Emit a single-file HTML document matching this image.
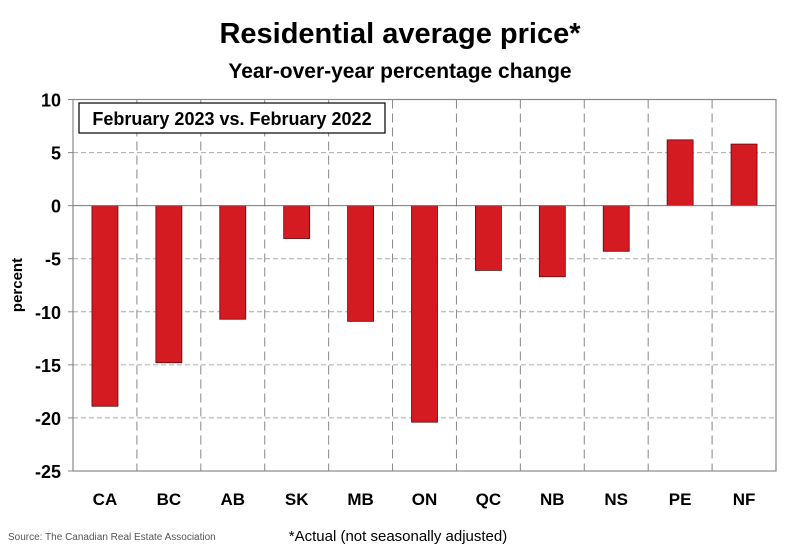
<!DOCTYPE html>
<html><head><meta charset="utf-8"><style>
body{margin:0;background:#fff;font-family:"Liberation Sans",sans-serif}
svg text{font-family:"Liberation Sans",sans-serif}
</style></head><body>
<svg id="chart" width="800" height="548" viewBox="0 0 800 548">
<text x="400" y="43" text-anchor="middle" font-size="29" font-weight="bold" fill="#000">Residential average price*</text>
<text x="400" y="78" text-anchor="middle" font-size="21" font-weight="bold" fill="#000">Year-over-year percentage change</text>
<g id="grid"></g>
<g id="bars"></g>
<g id="axes"></g>
<rect x="79" y="103" width="306" height="30" fill="#fff" stroke="#000" stroke-width="1.2"/>
<text x="232" y="125" text-anchor="middle" font-size="18" font-weight="bold">February 2023 vs. February 2022</text>
<text transform="translate(22,285) rotate(-90)" text-anchor="middle" font-size="15" font-weight="bold">percent</text>
<text x="8" y="540" font-size="10" fill="#555">Source: The Canadian Real Estate Association</text>
<text x="398" y="541" text-anchor="middle" font-size="15" fill="#000">*Actual (not seasonally adjusted)</text>
</svg>
<script>
const categories=["CA","BC","AB","SK","MB","ON","QC","NB","NS","PE","NF"];
const values=[-18.9,-14.8,-10.7,-3.1,-10.9,-20.4,-6.1,-6.7,-4.3,6.2,5.8];
const yTicks=[10,5,0,-5,-10,-15,-20,-25];
const NS="http://www.w3.org/2000/svg";
const L=73,R=776,T=99.5,B=471,yMin=-25,yMax=10;
const bw=(R-L)/categories.length;
const y=v=>T+(yMax-v)/(yMax-yMin)*(B-T);
const x=i=>L+bw*(i+0.5);
function mk(tag,attrs,parent){const e=document.createElementNS(NS,tag);for(const k in attrs)e.setAttribute(k,attrs[k]);parent.appendChild(e);return e;}
const grid=document.getElementById('grid'),bars=document.getElementById('bars'),axes=document.getElementById('axes');
yTicks.forEach(t=>{
 if(t!==0&&t!==yMax&&t!==yMin){const g=mk('line',{x1:L,x2:R,y1:y(t),y2:y(t),stroke:'#aaa','stroke-dasharray':'5,3'},grid);
 
 }
 const tx=mk('text',{x:L-12,y:y(t)+7,'text-anchor':'end','font-size':'18','font-weight':'bold'},axes);
 tx.textContent=t;
 
 
 mk('line',{x1:L-5,x2:L,y1:y(t),y2:y(t),stroke:'#888'},axes);
});
for(let i=1;i<categories.length;i++){
 const v=mk('line',{x1:L+bw*i,x2:L+bw*i,y1:T,y2:B,stroke:'#888','stroke-dasharray':'9,5'},grid);
 
 
}
categories.forEach((c,i)=>{
 const v=values[i];const w=26;
 const r=mk('rect',{x:x(i)-w/2,y:Math.min(y(v),y(0)),width:w,height:Math.abs(y(v)-y(0)),fill:'#d41b22',stroke:'#5a0a0a','stroke-width':'0.8'},bars);
 
 
 const t=mk('text',{x:x(i),y:B+34,'text-anchor':'middle','font-size':'17','font-weight':'bold'},axes);
 t.textContent=c;
 
 
});
const z=mk('line',{x1:L,x2:R,y1:y(0),y2:y(0),stroke:'#777'},axes);


const f=mk('rect',{x:L,y:T,width:R-L,height:B-T,fill:'none',stroke:'#888','stroke-width':'1.2'},axes);


</script>
</body></html>
